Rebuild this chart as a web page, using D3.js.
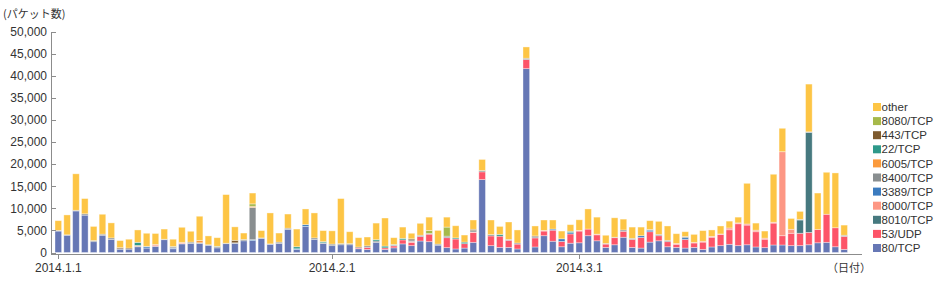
<!DOCTYPE html>
<html>
<head>
<meta charset="utf-8">
<script src="https://cdn.jsdelivr.net/npm/d3@7"></script>
<style>
  body { margin: 0; background: #fff; }
  svg { display: block; font-family: "Noto Sans CJK JP", "Noto Sans", sans-serif; }
  .axis text { fill: #333; font-size: 12px; }
  .axis path, .axis line { stroke: #8c8c8c; shape-rendering: crispEdges; }
  .label { fill: #333; font-size: 11px; }
  .legend text { fill: #333; font-size: 11.5px; font-family: "Liberation Sans", "Noto Sans CJK JP", sans-serif; }
</style>
</head>
<body>
<svg id="chart"></svg>
<script>
// =============================== //
// -->          Data          <--  //
// =============================== //

// one value per day, 2014.1.1 - 2014.3.31
const tcp80 = [4850,3900,9400,8450,2450,3900,2950,750,750,1300, 1000,1400,2900,850,1950,2050,2050,1600,1050,2000,
  2050,2650,2700,3200,1850,2050,5200,700,5900,2950, 2050,1550,1750,1750,850,700,2300,700,1050,1950,
  1550,2600,2450,1650,1100,800,1000,2300,16500,1550, 1150,1150,800,41600,1250,3800,2550,1300,2100,2200,
  3800,2650,1150,1750,3450,1150,1000,2350,2650,1300, 1150,1000,1150,700,1250,1550,1850,1550,1750,1250,
  1100,1700,1700,1550,1550,1750,2200,2300,1300,700];
const udp53 = [0,0,0,0,0,0,0,0,0,0, 0,0,0,0,0,0,0,0,0,0,
  0,0,0,0,0,0,0,0,0,0, 0,0,0,0,200,450,0,350,450,900,
  750,1000,1700,0,2250,2250,1000,2250,1750,2200, 2550,1600,1100,2050,2050,1050,2500,1200,2100,2650,
  1500,1350,750,1600,1350,1800,2400,2350,1150,1150, 700,1950,1000,1650,2200,2500,3300,4950,4450,3450,
  1900,4950,2100,2800,2800,2800,3000,6350,4300,2950];
const tcp8010 = [0,0,0,0,0,0,0,0,0,0, 0,0,0,0,0,0,0,0,0,0,
  0,0,0,0,0,0,0,0,0,0, 0,0,0,0,0,0,0,0,0,0,
  0,0,0,0,0,0,0,0,0,0, 0,0,0,0,0,0,0,0,0,0,
  0,0,0,0,0,0,0,0,0,0, 0,0,0,0,0,0,0,0,0,0,
  0,0,0,0,3000,22600,0,0,0,0];
const tcp8000 = [0,0,0,0,0,0,0,0,0,0, 0,300,0,0,200,0,0,0,0,0,
  0,0,0,0,0,0,0,0,0,0, 0,0,0,0,0,0,0,0,0,0,
  200,0,0,0,0,0,0,100,0,0, 0,0,0,0,0,150,0,0,0,150,
  0,150,0,0,0,0,0,0,0,0, 200,0,150,200,200,150,400,200,250,350,
  250,200,19000,900,0,0,0,0,0,0];
const tcp3389 = [0,0,0,0,0,0,0,0,0,100, 300,0,0,150,0,0,0,0,0,0,
  0,0,200,0,0,0,0,150,400,0, 0,0,0,0,0,0,0,0,0,0,
  0,0,0,0,0,0,0,0,0,0, 0,0,0,0,0,0,250,600,300,0,
  0,0,0,0,0,0,400,350,0,0, 0,400,0,0,0,0,0,0,0,0,
  0,0,0,0,0,0,0,0,0,0];
const tcp8400 = [150,100,150,300,250,250,350,100,0,0, 100,0,100,250,0,300,150,150,250,100,
  150,300,7300,100,100,300,300,0,0,350, 150,350,250,250,0,350,300,0,150,0,
  350,300,150,250,350,0,0,300,300,300, 0,200,250,300,250,0,0,0,0,0,
  0,0,150,100,300,250,0,150,300,300, 0,250,0,0,0,0,0,0,0,0,
  0,0,0,0,150,150,0,0,0,250];
const tcp6005 = [0,0,0,0,0,0,0,0,0,200, 0,150,0,0,150,0,500,0,0,0,
  0,0,250,0,0,0,0,0,0,0, 0,0,0,0,0,0,0,0,0,0,
  0,0,0,0,0,0,0,0,0,0, 0,0,0,0,0,0,0,0,0,0,
  0,0,0,0,0,0,0,0,0,0, 0,0,0,0,0,0,0,0,0,0,
  0,0,0,0,0,0,0,0,0,0];
const tcp22 = [0,0,0,0,0,0,0,0,0,700, 0,0,0,100,0,0,0,0,100,0,
  0,0,0,0,0,0,0,450,0,0, 250,0,0,0,0,0,300,400,150,350,
  0,0,0,0,0,250,350,0,0,0, 400,0,0,0,0,0,0,0,300,0,
  0,0,0,0,0,0,0,0,0,0, 0,0,0,0,0,0,0,0,0,0,
  0,0,0,0,0,0,0,0,0,0];
const tcp443 = [0,0,0,0,0,0,0,250,250,0, 0,0,0,0,0,0,0,0,0,0,
  550,0,0,0,0,0,0,0,0,0, 0,0,0,0,200,0,0,0,0,0,
  250,0,0,0,0,0,0,300,0,0, 0,0,0,0,200,0,0,0,0,0,
  0,0,0,0,0,0,0,0,0,0, 0,0,0,0,0,0,0,0,0,0,
  0,0,0,0,0,0,0,0,0,0];
const tcp8080 = [0,0,0,0,0,0,0,0,0,0, 0,0,0,0,0,0,0,0,0,0,
  0,0,550,0,0,0,0,0,0,0, 0,0,0,0,0,0,0,0,0,0,
  0,0,700,0,2050,0,0,0,0,0, 0,0,0,0,0,0,0,0,0,0,
  0,0,0,0,0,0,0,0,0,0, 0,0,0,0,0,0,0,0,0,0,
  0,0,0,0,0,0,0,0,0,0];
const other = [2200,4500,8250,3450,3200,4500,3400,1600,2000,2800, 2950,2450,2300,1650,3400,2450,5500,2000,1950,11000,
  3050,1450,2450,1650,7000,2050,3200,4000,3550,5650, 2500,3000,10200,2700,2100,2000,3750,6350,1550,2550,
  1250,2700,3000,3100,2250,2750,1600,2100,2500,3300, 1800,3950,2950,2550,2250,2350,2050,1750,1500,2400,
  4550,3850,1850,4400,2450,2550,1950,2000,2950,3250, 2200,1100,1800,2400,1450,1800,1550,1300,9200,1600,
  1600,10850,5300,2450,1800,10800,8250,9500,12400,2300];

// stack order, bottom to top
const seriesNames = ["80/TCP", "53/UDP", "8010/TCP", "8000/TCP", "3389/TCP", "8400/TCP",
  "6005/TCP", "22/TCP", "443/TCP", "8080/TCP", "other"];
const seriesValues = [tcp80, udp53, tcp8010, tcp8000, tcp3389, tcp8400, tcp6005, tcp22, tcp443, tcp8080, other];
const seriesColors = ["#6677b5", "#fd5468", "#46797f", "#fd9784", "#3b7bbf", "#898e90",
  "#fb9a3c", "#2e998a", "#7e5b2f", "#a6b94a", "#fdc545"];

const days = d3.timeDay.range(new Date(2014, 0, 1), new Date(2014, 3, 1));
const tickDays = [new Date(2014, 0, 1), new Date(2014, 1, 1), new Date(2014, 2, 1)];
const tickLabels = ["2014.1.1", "2014.2.1", "2014.3.1"];
const yTicks = [0, 5000, 10000, 15000, 20000, 25000, 30000, 35000, 40000, 45000, 50000];

// =============================== //
// -->         Chart          <--  //
// =============================== //

const width = 944;
const height = 283;
const axisX = 51;

const svg = d3.select("#chart").attr("width", width).attr("height", height);

const rows = days.map((d, i) => {
  const row = { date: d };
  seriesNames.forEach((name, k) => (row[name] = seriesValues[k][i]));
  return row;
});

const stacked = d3.stack().keys(seriesNames)(rows);

const xScale = d3.scaleBand().domain(days).range([55, 847.5]).paddingInner(0.25).paddingOuter(0);
const yScale = d3.scaleLinear().domain([0, 50000]).range([252.5, 31.5]);
const color = d3.scaleOrdinal().domain(seriesNames).range(seriesColors);

// bars
svg
  .append("g")
  .selectAll("g")
  .data(stacked)
  .join("g")
  .attr("fill", (s) => color(s.key))
  .selectAll("rect")
  .data((s) => s.filter((d) => d[1] > d[0]))
  .join("rect")
  .attr("x", (d) => xScale(d.data.date))
  .attr("y", (d) => yScale(d[1]))
  .attr("width", xScale.bandwidth())
  .attr("height", (d) => yScale(d[0]) - yScale(d[1]))
  .attr("stroke", "#fff")
  .attr("stroke-opacity", 0.45)
  .attr("stroke-width", 0.8);

// y axis
svg
  .append("g")
  .attr("class", "axis")
  .attr("transform", `translate(${axisX},0)`)
  .call(d3.axisLeft(yScale).tickValues(yTicks).tickSize(-5).tickPadding(4).tickFormat(d3.format(",")))
  .call((g) => g.select(".domain").attr("d", `M0.5,${yScale(50000)}V${yScale(0) + 1}`));

// x axis
svg
  .append("g")
  .attr("class", "axis")
  .attr("transform", `translate(0,${yScale(0) + 1})`)
  .call(
    d3
      .axisBottom(xScale)
      .tickValues(tickDays)
      .tickSize(5)
      .tickPadding(5)
      .tickFormat((d, i) => tickLabels[i])
  )
  .call((g) => g.select(".domain").attr("d", `M${axisX},0.5H${xScale.range()[1] + 14}`));

// axis titles
svg.append("text").attr("class", "label").attr("x", 3).attr("y", 18).text("(パケット数)");
svg
  .append("text")
  .attr("class", "label")
  .attr("x", 849)
  .attr("y", 272)
  .attr("text-anchor", "middle")
  .text("（日付）");

// legend
const legend = svg
  .append("g")
  .attr("class", "legend")
  .attr("transform", "translate(873,107)")
  .selectAll("g")
  .data(seriesNames.slice().reverse())
  .join("g")
  .attr("transform", (d, i) => `translate(0,${i * 14.1})`);

legend.append("rect").attr("y", -4).attr("width", 8).attr("height", 8).attr("fill", (d) => color(d));
legend.append("text").attr("x", 8.5).attr("dy", "0.36em").text((d) => d);
</script>
</body>
</html>
